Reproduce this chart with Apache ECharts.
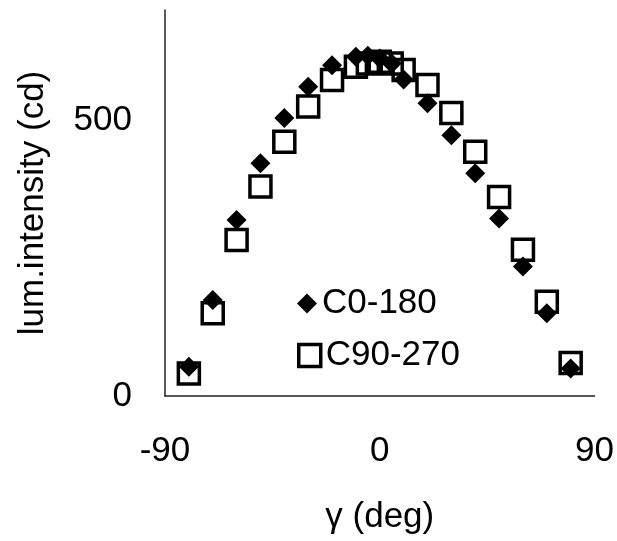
<!DOCTYPE html>
<html>
<head>
<meta charset="utf-8">
<script src="https://cdn.jsdelivr.net/npm/echarts@6/dist/echarts.min.js"></script>
<style>
  html, body { margin: 0; padding: 0; background: #ffffff; }
  #chart { width: 617px; height: 541px; }
</style>
</head>
<body>
<div id="chart"></div>
<script>
// Luminous intensity distribution in two C-planes (cd vs gamma angle)
const gammaC0 = [-80, -70, -60, -50, -40, -30, -20, -10, -5, 0, 5, 10, 20, 30, 40, 50, 60, 70, 80];
const intensityC0 = [53, 174, 319, 422, 504, 561, 600, 615, 617, 612, 603, 574, 531, 473, 404, 322, 235, 150, 50];

const gammaC90 = [-80, -70, -60, -50, -40, -30, -20, -10, -5, 0, 5, 10, 20, 30, 40, 50, 60, 70, 80];
const intensityC90 = [41, 150, 283, 380, 461, 525, 573, 597, 603, 606, 603, 591, 564, 513, 443, 361, 265, 171, 60];

const seriesNames = ['C0-180', 'C90-270'];
const xTicks = { min: -90, max: 90, step: 90 };
const yTicks = { min: 0, max: 700, step: 500 };

const FONT = 'Liberation Sans, Arial, sans-serif';
const INK = '#000000';

const pairs = (xs, ys) => xs.map((x, i) => [x, ys[i]]);

const chart = echarts.init(document.getElementById('chart'), null, { renderer: 'canvas' });

chart.setOption({
  animation: false,
  backgroundColor: '#ffffff',
  textStyle: { fontFamily: FONT, color: INK },
  grid: { left: 165, right: 22, top: 10, bottom: 145, containLabel: false },
  legend: [
    {
      data: [{ name: seriesNames[0], icon: 'diamond' }],
      left: 292, top: 281,
      itemWidth: 20, itemHeight: 20,
      selectedMode: false,
      textStyle: { fontFamily: FONT, fontSize: 35, color: INK }
    },
    {
      data: [{ name: seriesNames[1], icon: 'rect' }],
      left: 292, top: 333,
      itemWidth: 22, itemHeight: 22,
      selectedMode: false,
      itemStyle: { color: 'transparent', borderColor: INK, borderWidth: 3.5 },
      textStyle: { fontFamily: FONT, fontSize: 35, color: INK }
    }
  ],
  xAxis: {
    type: 'value',
    min: xTicks.min, max: xTicks.max, interval: xTicks.step,
    name: 'γ (deg)',
    nameLocation: 'middle',
    nameGap: 104,
    nameTextStyle: { fontFamily: FONT, fontSize: 35, color: INK },
    axisLine: { show: true, onZero: false, lineStyle: { color: '#222', width: 1.5 } },
    axisTick: { show: false },
    splitLine: { show: false },
    axisLabel: { fontFamily: FONT, fontSize: 35, color: INK, margin: 38 }
  },
  yAxis: {
    type: 'value',
    min: yTicks.min, max: yTicks.max, interval: yTicks.step,
    name: 'lum.intensity (cd)',
    nameLocation: 'middle',
    nameRotate: 90,
    nameGap: 114,
    nameTextStyle: { fontFamily: FONT, fontSize: 35, color: INK },
    axisLine: { show: true, onZero: false, lineStyle: { color: '#222', width: 1.5 } },
    axisTick: { show: false },
    splitLine: { show: false },
    axisLabel: { fontFamily: FONT, fontSize: 35, color: INK, margin: 33, showMaxLabel: false }
  },
  series: [
    {
      name: seriesNames[0],
      type: 'scatter',
      symbol: 'diamond',
      symbolSize: 20,
      itemStyle: { color: INK, opacity: 1 },
      data: pairs(gammaC0, intensityC0),
      z: 2
    },
    {
      name: seriesNames[1],
      type: 'scatter',
      symbol: 'rect',
      symbolSize: 21,
      itemStyle: { color: 'transparent', borderColor: INK, borderWidth: 3.5, opacity: 1 },
      data: pairs(gammaC90, intensityC90),
      z: 3
    }
  ]
});
</script>
</body>
</html>
